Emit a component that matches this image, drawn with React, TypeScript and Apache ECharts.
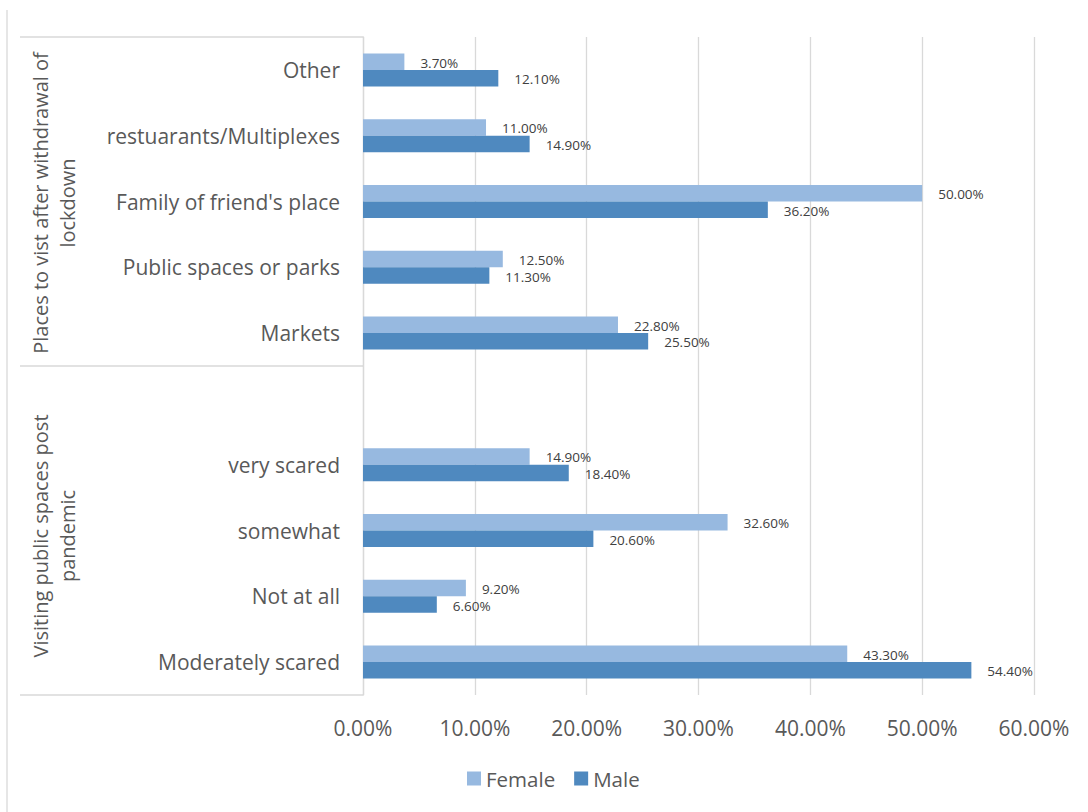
import React, { useEffect, useRef } from "react";
import * as echarts from "echarts";

const categories = [
  "Other",
  "restuarants/Multiplexes",
  "Family of friend's place",
  "Public spaces or parks",
  "Markets",
  "",
  "very scared",
  "somewhat",
  "Not at all",
  "Moderately scared",
];
const female = [3.7, 11.0, 50.0, 12.5, 22.8, null, 14.9, 32.6, 9.2, 43.3];
const male = [12.1, 14.9, 36.2, 11.3, 25.5, null, 18.4, 20.6, 6.6, 54.4];
const groupLabels = ["Places to vist after withdrawal of\nlockdown", "Visiting public spaces post\npandemic"];
const xTicks = { min: 0, max: 60, interval: 10 };

const FONT = "'Open Sans', sans-serif";
const GRID = { left: 363, right: 54, top: 37, bottom: 117 };

export default function App() {
  const ref = useRef<HTMLDivElement>(null);
  useEffect(() => {
    if (!ref.current) return;
    const chart = echarts.init(ref.current, undefined, { renderer: "svg" });
    const W = 1088, H = 812;
    const top = GRID.top, bottom = H - GRID.bottom, left = GRID.left;
    const slot = (bottom - top) / categories.length;
    const mid = top + slot * 5;
    const lineStyle = { stroke: "#d9d9d9", lineWidth: 1.3 };
    const label = {
      show: true,
      position: "right",
      distance: 16,
      offset: [0, 1],
      fontSize: 13.5,
      fontFamily: FONT,
      color: "#404040",
      formatter: (p: any) => Number(p.value).toFixed(2) + "%",
    };
    const groupText = (text: string, y: number) => ({
      type: "text",
      x: 54,
      y,
      rotation: Math.PI / 2,
      style: {
        text,
        align: "center",
        verticalAlign: "middle",
        fontSize: 20,
        lineHeight: 27,
        fill: "#595959",
        fontFamily: FONT,
      },
    });
    chart.setOption({
      animation: false,
      textStyle: { fontFamily: FONT },
      grid: GRID,
      legend: {
        data: ["Female", "Male"],
        bottom: 18,
        left: 462,
        itemWidth: 14,
        itemHeight: 14,
        itemGap: 19,
        icon: "rect",
        textStyle: { fontSize: 20.5, color: "#595959", fontFamily: FONT },
      },
      xAxis: {
        type: "value",
        min: xTicks.min,
        max: xTicks.max,
        interval: xTicks.interval,
        axisLine: { show: false },
        axisTick: { show: false },
        splitLine: { lineStyle: { color: "#d9d9d9", width: 1.3 } },
        axisLabel: {
          fontSize: 21,
          color: "#595959",
          fontFamily: FONT,
          margin: 22,
          formatter: (v: number) => v.toFixed(2) + "%",
        },
      },
      yAxis: {
        type: "category",
        data: categories,
        inverse: true,
        axisLine: { show: true, lineStyle: { color: "#d9d9d9", width: 1.3 } },
        axisTick: { show: false },
        axisLabel: { fontSize: 21, color: "#595959", fontFamily: FONT, margin: 23 },
      },
      series: [
        {
          name: "Female",
          type: "bar",
          data: female,
          barWidth: 16.5,
          barGap: "0%",
          itemStyle: { color: "#97B9E0" },
          label,
        },
        {
          name: "Male",
          type: "bar",
          data: male,
          barWidth: 16.5,
          barGap: "0%",
          itemStyle: { color: "#4F89BF" },
          label,
        },
      ],
      graphic: [
        { type: "line", shape: { x1: 7, y1: 10, x2: 7, y2: H }, style: lineStyle },
        { type: "line", shape: { x1: 20, y1: top, x2: left, y2: top }, style: lineStyle },
        { type: "line", shape: { x1: 20, y1: mid, x2: left, y2: mid }, style: lineStyle },
        { type: "line", shape: { x1: 20, y1: bottom, x2: left, y2: bottom }, style: lineStyle },
        groupText(groupLabels[0], 203),
        groupText(groupLabels[1], 536),
      ],
    });
    return () => chart.dispose();
  }, []);
  return (
    <div
      ref={ref}
      style={{ position: "fixed", left: 0, top: 0, width: 1088, height: 812, background: "#fff" }}
    />
  );
}
